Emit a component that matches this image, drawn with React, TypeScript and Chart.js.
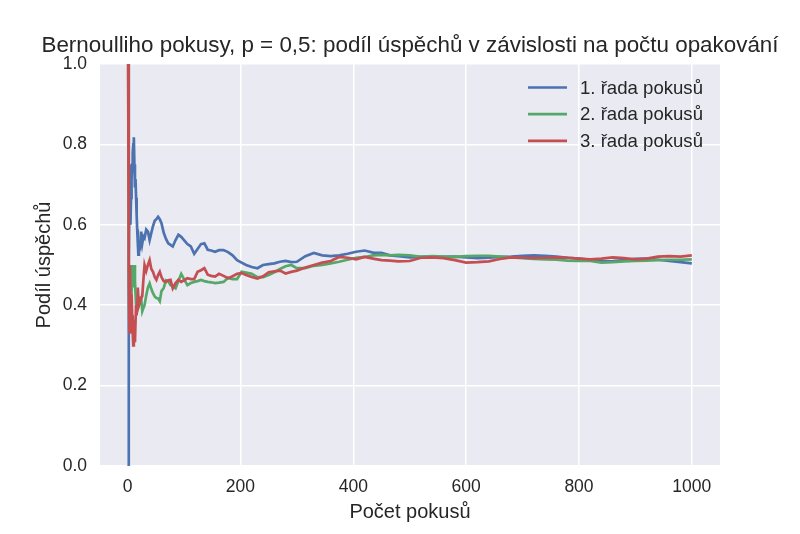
import React, { useEffect, useRef } from "react";
import { Chart, registerables } from "chart.js";

Chart.register(...registerables);

// počet pokusů (x) – společný pro všechny tři řady
const trials = [
	1, 2, 3, 4, 5, 6, 7, 8, 9, 10, 11, 12, 13, 14, 15, 16, 17, 18, 19, 20,
	22, 24, 26, 28, 30, 33, 36, 39, 42, 45, 48, 51, 54, 57, 60,
	64, 68, 72, 76, 80, 85, 90, 95, 100,
	106, 112, 118, 124, 130, 136, 142, 148,
	155, 162, 170, 178, 186, 194, 202, 210,
	220, 230, 240, 250, 260, 270, 280, 290, 300,
	315, 330, 345, 360, 375, 390, 405, 420, 435, 450, 465, 480,
	500, 520, 540, 560, 580, 600, 620, 640, 660, 680, 700, 720, 740,
	760, 780, 800, 820, 840, 860, 880, 900, 920, 940, 960, 980, 1000,
];

const series1 = [
	0, 0.5, 0.667, 0.75, 0.6, 0.667, 0.714, 0.75, 0.778, 0.8, 0.818, 0.75, 0.692, 0.714, 0.667, 0.625, 0.588, 0.556, 0.526, 0.55,
	0.545, 0.583, 0.554, 0.571, 0.567, 0.588, 0.583, 0.562, 0.58, 0.597, 0.61, 0.614, 0.62, 0.614, 0.604,
	0.58, 0.565, 0.554, 0.55, 0.546, 0.562, 0.575, 0.57, 0.562,
	0.552, 0.546, 0.528, 0.54, 0.552, 0.554, 0.538, 0.536,
	0.533, 0.537, 0.537, 0.532, 0.524, 0.512, 0.506, 0.5,
	0.495, 0.492, 0.5, 0.502, 0.504, 0.508, 0.51, 0.507, 0.508,
	0.522, 0.53, 0.524, 0.522, 0.524, 0.528, 0.533, 0.536, 0.531, 0.53, 0.524, 0.522,
	0.519, 0.52, 0.521, 0.52, 0.521, 0.519, 0.517, 0.518, 0.52, 0.521, 0.523, 0.524, 0.523,
	0.521, 0.518, 0.516, 0.513, 0.509, 0.51, 0.512, 0.515, 0.516, 0.513, 0.51, 0.507, 0.504,
];

const series2 = [
	1, 0.5, 0.333, 0.5, 0.4, 0.5, 0.429, 0.5, 0.444, 0.5, 0.455, 0.5, 0.462, 0.429, 0.4, 0.375, 0.412, 0.389, 0.421, 0.4,
	0.409, 0.417, 0.385, 0.393, 0.4, 0.424, 0.444, 0.454, 0.44, 0.43, 0.422, 0.418, 0.417, 0.41, 0.435,
	0.443, 0.462, 0.46, 0.45, 0.448, 0.442, 0.46, 0.478, 0.465,
	0.45, 0.455, 0.458, 0.46, 0.463, 0.46, 0.458, 0.457,
	0.455, 0.456, 0.458, 0.468, 0.465, 0.465, 0.483, 0.481,
	0.478, 0.47, 0.47, 0.475, 0.482, 0.49, 0.497, 0.5, 0.492,
	0.492, 0.498, 0.5, 0.504, 0.508, 0.513, 0.518, 0.52, 0.524, 0.525, 0.524, 0.525,
	0.524, 0.52, 0.522, 0.521, 0.52, 0.522, 0.523, 0.523, 0.521, 0.519, 0.517, 0.515, 0.514,
	0.513, 0.511, 0.51, 0.51, 0.506, 0.507, 0.509, 0.51, 0.511, 0.512, 0.513, 0.513, 0.514,
];

const series3 = [
	1, 0.5, 0.333, 0.5, 0.4, 0.333, 0.429, 0.375, 0.333, 0.3, 0.364, 0.333, 0.308, 0.357, 0.4, 0.375, 0.412, 0.444, 0.421, 0.4,
	0.409, 0.417, 0.423, 0.464, 0.5, 0.485, 0.5, 0.512, 0.49, 0.483, 0.47, 0.463, 0.475, 0.483, 0.47,
	0.46, 0.458, 0.462, 0.463, 0.442, 0.455, 0.463, 0.458, 0.462,
	0.467, 0.465, 0.465, 0.483, 0.487, 0.492, 0.476, 0.473,
	0.471, 0.478, 0.473, 0.467, 0.472, 0.478, 0.48, 0.475,
	0.47, 0.466, 0.472, 0.482, 0.484, 0.486, 0.479, 0.483, 0.486,
	0.494, 0.5, 0.506, 0.51, 0.52, 0.518, 0.514, 0.52, 0.516, 0.512, 0.511, 0.509,
	0.51, 0.518, 0.519, 0.517, 0.512, 0.506, 0.507, 0.509, 0.515, 0.519, 0.518, 0.517, 0.518,
	0.519, 0.518, 0.516, 0.514, 0.516, 0.519, 0.517, 0.514, 0.516, 0.521, 0.522, 0.521, 0.524,
];

const seriesLabels = ["1. řada pokusů", "2. řada pokusů", "3. řada pokusů"];
const seriesColors = ["#4C72B0", "#55A868", "#C44E52"];
const xTicks = [0, 200, 400, 600, 800, 1000];
const chartTitle = "Bernoulliho pokusy, p = 0,5: podíl úspěchů v závislosti na počtu opakování";

const FONT = "'Liberation Sans', Arial, sans-serif";
const TEXT = "#262626";

const background = {
	id: "background",
	beforeDraw(chart: any) {
		const { ctx, chartArea } = chart;
		ctx.save();
		ctx.fillStyle = "#EAEAF2";
		ctx.fillRect(chartArea.left, chartArea.top, chartArea.right - chartArea.left, chartArea.bottom - chartArea.top);
		ctx.restore();
	},
};

// titulek vystředěný nad plochou grafu (ne nad celým plátnem)
const axesTitle = {
	id: "axesTitle",
	afterDraw(chart: any) {
		const { ctx, chartArea } = chart;
		ctx.save();
		ctx.font = `22.4px ${FONT}`;
		ctx.fillStyle = TEXT;
		ctx.textAlign = "center";
		ctx.textBaseline = "middle";
		ctx.fillText(chartTitle, (chartArea.left + chartArea.right) / 2, 46);
		ctx.restore();
	},
};

// legenda bez rámečku vpravo nahoře, jako v seabornu
const legendRight = {
	id: "legendRight",
	afterDraw(chart: any) {
		const { ctx, chartArea } = chart;
		ctx.save();
		ctx.font = `18.6px ${FONT}`;
		ctx.textBaseline = "middle";
		ctx.fillStyle = TEXT;
		chart.data.datasets.forEach((ds: any, i: number) => {
			const y = chartArea.top + 23.5 + i * 26.7;
			const x0 = chartArea.right - 192;
			ctx.strokeStyle = ds.borderColor;
			ctx.lineWidth = 2.7;
			ctx.beginPath();
			ctx.moveTo(x0, y);
			ctx.lineTo(x0 + 39, y);
			ctx.stroke();
			ctx.fillText(ds.label, x0 + 52, y + 1);
		});
		ctx.restore();
	},
};

const App = () => {
	const canvasRef = useRef<HTMLCanvasElement>(null);

	useEffect(() => {
		if (!canvasRef.current) return;
		const allSeries = [series1, series2, series3];
		const chart = new Chart(canvasRef.current, {
			type: "line",
			data: {
				datasets: allSeries.map((s, i) => ({
					label: seriesLabels[i],
					data: trials.map((t, j) => ({ x: t, y: s[j] })),
					borderColor: seriesColors[i],
					backgroundColor: seriesColors[i],
					borderWidth: 2.7,
					pointRadius: 0,
					tension: 0,
					order: 3 - i,
				})),
			},
			options: {
				animation: false,
				responsive: false,
				layout: { padding: { top: 64, right: 80, bottom: 0, left: 0 } },
				plugins: {
					legend: { display: false },
					tooltip: { enabled: false },
					title: { display: false },
				},
				scales: {
					x: {
						type: "linear",
						min: -48.95,
						max: 1049.95,
						afterBuildTicks: (scale: any) => {
							scale.ticks = xTicks.map((v) => ({ value: v }));
						},
						afterFit: (scale: any) => {
							scale.height = 68;
						},
						grid: { color: "#FFFFFF", lineWidth: 1.5, drawTicks: false },
						border: { display: false },
						ticks: {
							color: TEXT,
							font: { family: FONT, size: 17.5 },
							padding: 11,
							callback: (v: any) => String(v),
						},
						title: {
							display: true,
							text: "Počet pokusů",
							color: TEXT,
							font: { family: FONT, size: 20, lineHeight: 1.2 },
							padding: { top: 0, bottom: 9.5 },
						},
					},
					y: {
						min: 0,
						max: 1,
						afterFit: (scale: any) => {
							scale.width = 100;
						},
						grid: { color: "#FFFFFF", lineWidth: 1.5, drawTicks: false },
						border: { display: false },
						ticks: {
							stepSize: 0.2,
							color: TEXT,
							font: { family: FONT, size: 17.5 },
							padding: 13,
							callback: (v: any) => Number(v).toFixed(1),
						},
						title: {
							display: true,
							text: "Podíl úspěchů",
							color: TEXT,
							font: { family: FONT, size: 20, lineHeight: 1.2 },
							padding: { top: 32, bottom: 0 },
						},
					},
				},
			},
			plugins: [background, axesTitle, legendRight],
		});
		return () => {
			chart.destroy();
		};
	}, []);

	return (
		<div style={{ position: "fixed", left: 0, top: 0, width: 800, height: 534, background: "#FFFFFF" }}>
			<canvas ref={canvasRef} width={800} height={534} />
		</div>
	);
};

export default App;
